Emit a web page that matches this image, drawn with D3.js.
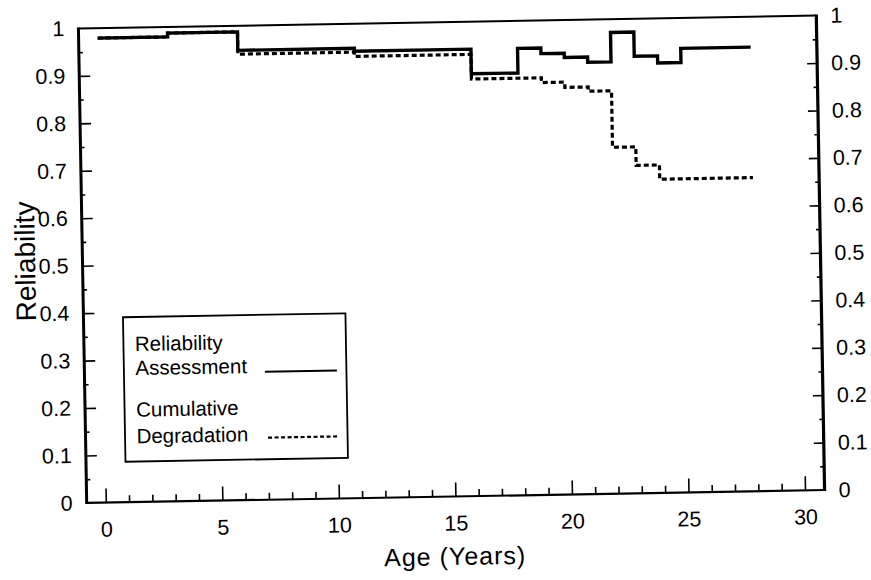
<!DOCTYPE html>
<html>
<head>
<meta charset="utf-8">
<script src="https://cdn.jsdelivr.net/npm/d3@7"></script>
<style>
  body { margin: 0; background: #fff; }
  svg { display: block; background: #fff; }
  text { font-family: "Liberation Sans", Arial, Helvetica, sans-serif; fill: #000; }
</style>
</head>
<body>
<svg id="chart" width="871" height="580"></svg>
<script>
// ---- data ----
const relYears  = [0, 3, 6, 11, 16, 18, 19, 20, 21, 22, 23, 24, 25, 28];
const relValues = [0.979, 0.987, 0.948, 0.942, 0.890, 0.942, 0.930, 0.921, 0.910, 0.972, 0.921, 0.906, 0.936, 0.936];
const degYears  = [0, 3, 6, 11, 16, 19, 20, 21, 22, 23, 24, 28];
const degValues = [0.979, 0.987, 0.940, 0.931, 0.879, 0.869, 0.858, 0.849, 0.730, 0.691, 0.661, 0.661];
const xTickValues = [0, 5, 10, 15, 20, 25, 30];
const xMinorValues = d3.range(0, 31, 1).filter(v => v % 5 !== 0);
const yTickValues = [0, 0.1, 0.2, 0.3, 0.4, 0.5, 0.6, 0.7, 0.8, 0.9, 1];
const yTickLabels = ["0", "0.1", "0.2", "0.3", "0.4", "0.5", "0.6", "0.7", "0.8", "0.9", "1"];
const yMinorValues = [0.05, 0.15, 0.25, 0.35, 0.45, 0.55, 0.65, 0.75, 0.85, 0.95];
const legendLabels = [["Reliability", "Assessment"], ["Cumulative", "Degradation"]];
const xTitle = "Age (Years)";
const yTitle = "Reliability";

// ---- layout ----
const pLeft = 82.5, pRight = 820.5, pTop = 22, pBottom = 496.5;
const cx = (pLeft + pRight) / 2, cy = (pTop + pBottom) / 2;
const svg = d3.select("#chart");
const g = svg.append("g").attr("transform", `rotate(-1, ${cx}, ${cy})`);

const x = d3.scaleLinear().domain([-0.82, 30.84]).range([pLeft, pRight]);
const y = d3.scaleLinear().domain([0, 1]).range([pBottom, pTop]);
const fmt = v => yTickLabels[yTickValues.findIndex(t => Math.abs(t - v) < 1e-9)];

// left axis
const yl = g.append("g").attr("transform", `translate(${pLeft},0)`)
  .call(d3.axisLeft(y).tickValues(yTickValues).tickFormat(fmt).tickSize(-11).tickPadding(14));
yl.selectAll(".tick line").filter(d => d === 0 || d === 1).remove();
g.append("g").attr("transform", `translate(${pLeft},0)`)
  .call(d3.axisLeft(y).tickValues(yMinorValues).tickFormat("").tickSize(-4));

// right axis
const yr = g.append("g").attr("transform", `translate(${pRight},0)`)
  .call(d3.axisRight(y).tickValues(yTickValues).tickFormat(fmt).tickSize(-10).tickPadding(14));
yr.selectAll(".tick line").filter(d => d === 0 || d === 1).remove();
g.append("g").attr("transform", `translate(${pRight},0)`)
  .call(d3.axisRight(y).tickValues(yMinorValues).tickFormat("").tickSize(-4));

// bottom axis
const xb = g.append("g").attr("transform", `translate(0,${pBottom})`)
  .call(d3.axisBottom(x).tickValues(xTickValues).tickFormat(d3.format("d")).tickSize(-14));
xb.selectAll(".tick text").attr("y", 34).attr("dy", 0);
g.append("g").attr("transform", `translate(0,${pBottom})`)
  .call(d3.axisBottom(x).tickValues(xMinorValues).tickFormat("").tickSize(-7));

g.selectAll(".domain").remove();
g.selectAll(".tick line").attr("stroke", "#000").attr("stroke-width", 1.6);
g.selectAll(".tick text").attr("font-size", 21.5).attr("fill", "#000")
  .attr("font-family", '"Liberation Sans", Arial, sans-serif');

// frame
g.append("line").attr("x1", pLeft).attr("x2", pRight).attr("y1", pTop).attr("y2", pTop)
  .attr("stroke", "#000").attr("stroke-width", 2);
g.append("line").attr("x1", pLeft).attr("x2", pRight).attr("y1", pBottom).attr("y2", pBottom)
  .attr("stroke", "#000").attr("stroke-width", 2.2);
g.append("line").attr("x1", pLeft).attr("x2", pLeft).attr("y1", pTop - 1).attr("y2", pBottom + 1)
  .attr("stroke", "#000").attr("stroke-width", 3);
g.append("line").attr("x1", pRight).attr("x2", pRight).attr("y1", pTop - 1).attr("y2", pBottom + 1)
  .attr("stroke", "#000").attr("stroke-width", 3.2);

// series
const line = d3.line().x(d => x(d[0])).y(d => y(d[1])).curve(d3.curveStepAfter);
g.append("path").datum(d3.zip(relYears, relValues))
  .attr("d", line).attr("fill", "none").attr("stroke", "#000").attr("stroke-width", 3.4);
g.append("path").datum(d3.zip(degYears, degValues))
  .attr("d", line).attr("fill", "none").attr("stroke", "#000").attr("stroke-width", 3.2)
  .attr("stroke-dasharray", "5,3");

// legend
const lg = g.append("g");
lg.append("rect").attr("x", 122).attr("y", 311.5).attr("width", 222.5).attr("height", 144.5)
  .attr("fill", "#fff").attr("stroke", "#000").attr("stroke-width", 1.8);
const baselines = [[345.5, 369.5], [411.2, 437.8]];
legendLabels.forEach((pair, i) => {
  pair.forEach((s, j) => {
    lg.append("text").attr("x", 133.5).attr("y", baselines[i][j])
      .attr("font-size", 20.5).text(s);
  });
});
lg.append("line").attr("x1", 263).attr("x2", 335).attr("y1", 368.4).attr("y2", 368.4)
  .attr("stroke", "#000").attr("stroke-width", 2);
lg.append("line").attr("x1", 265).attr("x2", 335).attr("y1", 434.4).attr("y2", 434.4)
  .attr("stroke", "#000").attr("stroke-width", 2.2).attr("stroke-dasharray", "4,2.5");

// titles
g.append("text").attr("x", 450).attr("y", 565).attr("text-anchor", "middle")
  .attr("font-size", 25).attr("letter-spacing", 1).text(xTitle);
g.append("text").attr("transform", "translate(35,254) rotate(-90)").attr("text-anchor", "middle")
  .attr("font-size", 28).text(yTitle);
</script>
</body>
</html>
